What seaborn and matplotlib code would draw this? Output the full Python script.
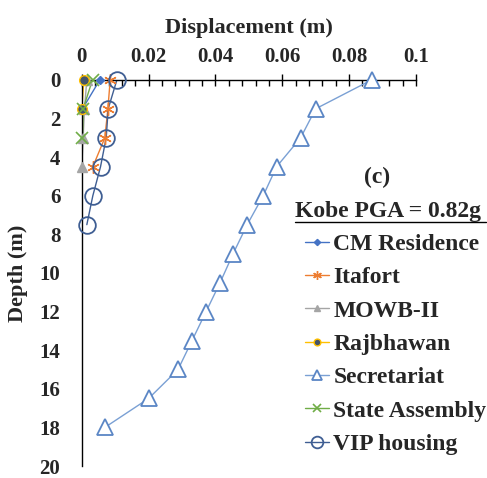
import numpy as np
import pandas as pd
import matplotlib
matplotlib.use("Agg")
import matplotlib.pyplot as plt
from matplotlib.lines import Line2D
from matplotlib.ticker import MultipleLocator
import seaborn as sns

# Depth profiles of lateral displacement (m) for each site, Kobe motion
depth_cm = [0, 1.5]
disp_cm = [0.0054, 0.0002]

depth_itafort = [0, 1.5, 3, 4.5]
disp_itafort = [0.0085, 0.0078, 0.0069, 0.0033]

depth_mowb = [0, 1.5, 3, 4.5]
disp_mowb = [0.0015, 0.0008, 0.0004, 0.0]

depth_raj = [0, 1.5]
disp_raj = [0.0006, 0.0]

depth_sec = [0, 1.5, 3, 4.5, 6, 7.5, 9, 10.5, 12, 13.5, 15, 16.5, 18]
disp_sec = [0.0868, 0.0700, 0.0655, 0.0583, 0.0543, 0.0495, 0.0453,
            0.0414, 0.0372, 0.0330, 0.0288, 0.0200, 0.0069]

depth_sa = [0, 1.5, 3]
disp_sa = [0.0032, 0.0004, 0.0002]

depth_vip = [0, 1.5, 3, 4.5, 6, 7.5]
disp_vip = [0.0105, 0.0079, 0.0073, 0.0056, 0.0033, 0.0015]

sites = ["CM Residence", "Itafort", "MOWB-II", "Rajbhawan",
         "Secretariat", "State Assembly", "VIP housing"]
depths = [depth_cm, depth_itafort, depth_mowb, depth_raj, depth_sec, depth_sa, depth_vip]
disps = [disp_cm, disp_itafort, disp_mowb, disp_raj, disp_sec, disp_sa, disp_vip]

styles = {
    "CM Residence":   dict(color="#4472C4", marker="D", ms=4.5, mfc="#4472C4", mec="#4472C4", mew=1),
    "Itafort":        dict(color="#ED7D31", marker=(6, 2, 0), ms=9, mfc="none", mec="#ED7D31", mew=1),
    "MOWB-II":        dict(color="#A5A5A5", marker="^", ms=7, mfc="#A5A5A5", mec="#A5A5A5", mew=1),
    "Rajbhawan":      dict(color="#FFC000", marker="o", ms=7, mfc="#44546A", mec="#FFC000", mew=1),
    "Secretariat":    dict(color="#7AA0D4", marker="^", ms=11, mfc="white", mec="#5B86C5", mew=1.3),
    "State Assembly": dict(color="#70AD47", marker="x", ms=8, mfc="none", mec="#70AD47", mew=1.2),
    "VIP housing":    dict(color="#3F5E93", marker="o", ms=12, mfc="none", mec="#3F5E93", mew=1.3),
}

rows = []
for s, d, x in zip(sites, depths, disps):
    for dd, xx in zip(d, x):
        rows.append({"Site": s, "Depth": dd, "Disp": xx})
df = pd.DataFrame(rows)

sns.set_theme(style="white")
plt.rcParams["font.family"] = ["Liberation Serif", "DejaVu Serif"]
plt.rcParams["font.weight"] = "bold"

fig = plt.figure(figsize=(4.87, 4.78), dpi=100)
ax = fig.add_axes([0.168, 0.025, 0.686, 0.808])

for s in sites:
    sub = df[df["Site"] == s]
    st = styles[s]
    sns.lineplot(data=sub, x="Disp", y="Depth", sort=False, ax=ax,
                 color=st["color"], lw=1.0, estimator=None, legend=False)
    ax.plot(sub["Disp"], sub["Depth"], ls="none", marker=st["marker"], ms=st["ms"],
            mfc=st["mfc"], mec=st["mec"], mew=st["mew"], clip_on=False, zorder=3)

ax.set_xlim(0, 0.1)
ax.set_ylim(20, 0)
ax.xaxis.tick_top()
ax.xaxis.set_label_position("top")
ax.xaxis.set_minor_locator(MultipleLocator(0.004))
ax.yaxis.set_major_locator(MultipleLocator(2))
ax.yaxis.set_minor_locator(MultipleLocator(0.4))
ax.set_xticks([0, 0.02, 0.04, 0.06, 0.08, 0.1])
ax.set_xticklabels(["0", "0.02", "0.04", "0.06", "0.08", "0.1"])
for sp in ["right", "bottom"]:
    ax.spines[sp].set_visible(False)
for sp in ["left", "top"]:
    ax.spines[sp].set_color("black")
    ax.spines[sp].set_linewidth(1.0)

ax.tick_params(which="major", direction="inout", length=9, width=1, color="black",
               labelsize=15)
ax.tick_params(which="minor", direction="in", length=4, width=1, color="black")
ax.tick_params(axis="y", which="major", pad=11)
ax.tick_params(axis="x", which="major", pad=5)
for lab in ax.get_xticklabels() + ax.get_yticklabels():
    lab.set_fontweight("bold")

ax.set_xlabel("Displacement (m)", fontsize=16, fontweight="bold", labelpad=10)
ax.set_ylabel("Depth (m)", fontsize=16, fontweight="bold", labelpad=8)

# Legend with title block
ax.text(0.883, 0.746, "(c)", transform=ax.transAxes, fontsize=17, fontweight="bold",
        ha="center", va="center")
ax.text(0.638, 0.658, "Kobe PGA = 0.82g", transform=ax.transAxes, fontsize=17,
        fontweight="bold", ha="left", va="center")
ax.plot([0.638, 1.21], [0.633, 0.633], transform=ax.transAxes, color="black",
        lw=1.0, clip_on=False)

handles = []
for s in sites:
    st = styles[s]
    handles.append(Line2D([0], [0], color=st["color"], lw=1.0, marker=st["marker"],
                          ms=st["ms"] * 0.7, mfc=st["mfc"], mec=st["mec"], mew=st["mew"]))
leg = ax.legend(handles, sites, loc="upper left", bbox_to_anchor=(0.668, 0.602),
                frameon=False, handlelength=1.0, handletextpad=0.2,
                labelspacing=0.5, borderaxespad=0, borderpad=0.0,
                prop={"weight": "bold", "size": 17, "family": "Liberation Serif"})

fig.savefig("out.png", dpi=100)
